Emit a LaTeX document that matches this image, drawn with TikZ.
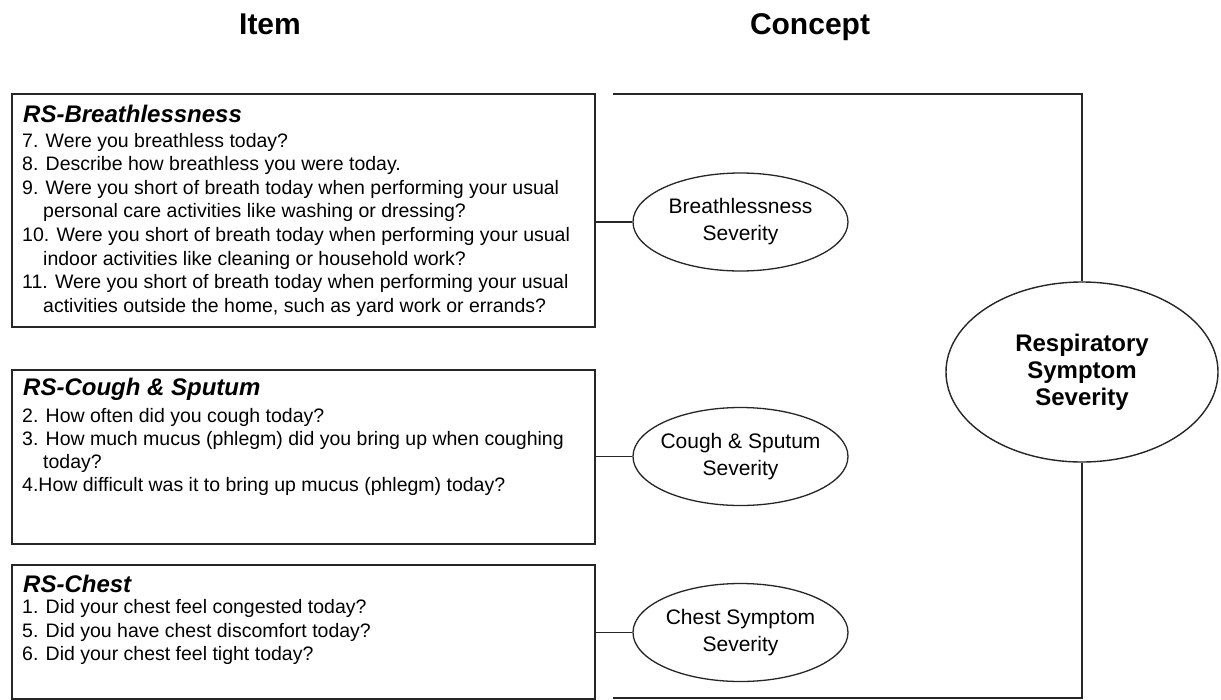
\documentclass[tikz,border=0pt]{standalone}
\usepackage{fontspec}
\setmainfont{Liberation Sans}
\usetikzlibrary{shapes.geometric}
\begin{document}
\begin{tikzpicture}[x=1pt,y=-1pt,
  conn/.style={draw=black!85, line width=1.6pt},
  ibox/.style={draw=black!85, line width=1.7pt, anchor=north west, inner sep=0pt},
  ttl/.style={anchor=base west, inner sep=0pt, font=\fontsize{24}{28}\selectfont\bfseries\itshape},
  itm/.style={anchor=base west, inner sep=0pt, font=\fontsize{19.5}{23}\selectfont},
  concept/.style={ellipse, draw=black!85, line width=1.3pt, minimum width=215pt, minimum height=98pt, inner xsep=-12pt, inner ysep=0pt, align=center, font=\fontsize{21}{27}\selectfont},
  bigc/.style={ellipse, draw=black!85, line width=1.4pt, minimum width=272pt, minimum height=180pt, inner sep=0pt, align=center, font=\fontsize{24}{27}\selectfont\bfseries},
  hdr/.style={anchor=base, inner sep=0pt, font=\fontsize{30}{36}\selectfont\bfseries}
]
\useasboundingbox (0,0) rectangle (1221,699);
\fill[white] (0,0) rectangle (1221,699);

% headers
\node[hdr] (hitem) at (270,34) {Item};
\node[hdr] (hconcept) at (810,34) {Concept};

% item boxes
\node[ibox, minimum width=583pt, minimum height=233pt] (box1) at (11,93) {};
\node[ibox, minimum width=583pt, minimum height=174pt] (box2) at (11,369) {};
\node[ibox, minimum width=583pt, minimum height=134pt] (box3) at (11,564) {};

% titles
\node[ttl] (t1) at (23,122) {RS-Breathlessness};
\node[ttl] (t2) at (23,395) {RS-Cough \& Sputum};
\node[ttl] (t3) at (23,592) {RS-Chest};

% box 1 items
\foreach \x/\y/\t [count=\i] in {
  22/147/{7. Were you breathless today?},
  22/170.6/{8. Describe how breathless you were today.},
  22/194.2/{9. Were you short of breath today when performing your usual},
  43/217.8/{personal care activities like washing or dressing?},
  22/241.4/{10. Were you short of breath today when performing your usual},
  43/265/{indoor activities like cleaning or household work?},
  22/288.6/{11. Were you short of breath today when performing your usual},
  43/312.2/{activities outside the home, such as yard work or errands?}}
  \node[itm] (b1l\i) at (\x,\y) {\t};

% box 2 items
\foreach \x/\y/\t [count=\i] in {
  22/422/{2. How often did you cough today?},
  22/445/{3. How much mucus (phlegm) did you bring up when coughing},
  43/468/{today?},
  22/491/{4.How difficult was it to bring up mucus (phlegm) today?}}
  \node[itm] (b2l\i) at (\x,\y) {\t};

% box 3 items
\foreach \x/\y/\t [count=\i] in {
  22/613/{1. Did your chest feel congested today?},
  22/637/{5. Did you have chest discomfort today?},
  22/660/{6. Did your chest feel tight today?}}
  \node[itm] (b3l\i) at (\x,\y) {\t};

% concept ellipses
\node[concept] (e1) at (740.5,222) {Breathlessness\\Severity};
\node[concept] (e2) at (740.5,456.5) {Cough \& Sputum\\Severity};
\node[concept] (e3) at (740.5,632.5) {Chest Symptom\\Severity};
\node[bigc] (rs) at (1082,372) {Respiratory\\Symptom\\Severity};

% connectors
\draw[conn] (e1.west -| box1.east) -- (e1.west);
\draw[conn] (e2.west -| box2.east) -- (e2.west);
\draw[conn] (e3.west -| box3.east) -- (e3.west);

\coordinate (tl) at (613,94);
\coordinate (bl) at (613,698);
\draw[conn] (tl) -- (tl -| rs.north) -- (rs.north);
\draw[conn] (bl) -- (bl -| rs.south) -- (rs.south);
\end{tikzpicture}
\end{document}
